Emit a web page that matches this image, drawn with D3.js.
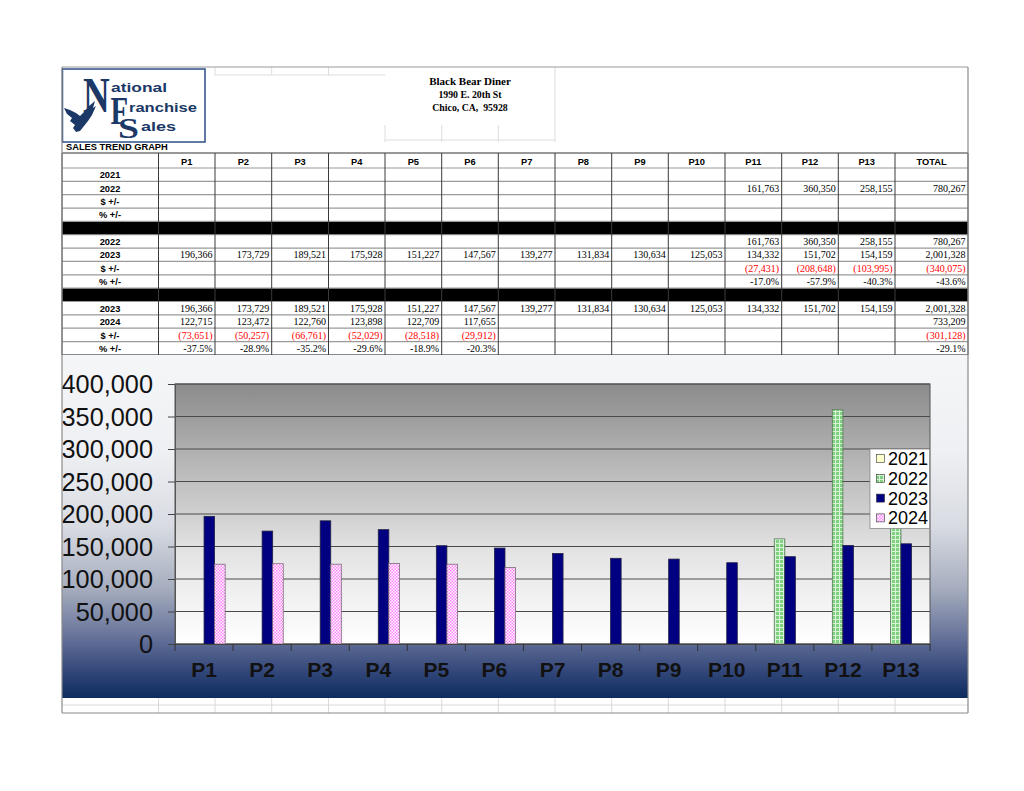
<!DOCTYPE html>
<html><head><meta charset="utf-8">
<script src="https://cdn.jsdelivr.net/npm/d3@7/dist/d3.min.js"></script>
<style>body{margin:0;background:#fff}svg{display:block}</style>
</head><body>
<svg id="c" width="1024" height="791"></svg>
<script>
// ---------- DATA ----------
const periods = ["P1","P2","P3","P4","P5","P6","P7","P8","P9","P10","P11","P12","P13"];
const seriesNames = ["2021","2022","2023","2024"];
const sales2021 = [null,null,null,null,null,null,null,null,null,null,null,null,null];
const sales2022 = [null,null,null,null,null,null,null,null,null,null,161763,360350,258155];
const sales2023 = [196366,173729,189521,175928,151227,147567,139277,131834,130634,125053,134332,151702,154159];
const sales2024 = [122715,123472,122760,123898,122709,117655,null,null,null,null,null,null,null];
const total2022 = 780267, total2023 = 2001328, total2024 = 733209;
const diff23vs22 = [null,null,null,null,null,null,null,null,null,null,-27431,-208648,-103995];
const diffTotal23vs22 = -340075;
const pct23vs22 = [null,null,null,null,null,null,null,null,null,null,-0.170,-0.579,-0.403];
const pctTotal23vs22 = -0.436;
const diff24vs23 = [-73651,-50257,-66761,-52029,-28518,-29912,null,null,null,null,null,null,null];
const diffTotal24vs23 = -301128;
const pct24vs23 = [-0.375,-0.289,-0.352,-0.296,-0.189,-0.203,null,null,null,null,null,null,null];
const pctTotal24vs23 = -0.291;
const yTicks = [0,50000,100000,150000,200000,250000,300000,350000,400000];

// ---------- SETUP ----------
const svg = d3.select("#c");
const defs = svg.append("defs");
const fmtN = d3.format(",");
const numTxt = v => v == null ? "" : (v < 0 ? "(" + fmtN(-v) + ")" : fmtN(v));
const pctTxt = v => v == null ? "" : (v*100).toFixed(1) + "%";

const colX = [62,158.5,215,271.7,328.5,385,441.7,498.3,555,611.7,668.3,725,781.7,838.3,895,968];
const rowH = 13.35, tableTop = 168;

const faint = svg.append("g").attr("stroke","#d4d4d4").attr("stroke-width",0.8);
[[215,67,215,75],[271.7,67,271.7,75],[328.5,67,328.5,75],[215,75,328.5,75],
 [385,125,385,142],[441.7,125,441.7,142],[498.3,125,498.3,142],[385,140,555,140],[555,67,555,142],[328.5,75,385,75]]
 .forEach(l=>faint.append("line").attr("x1",l[0]).attr("y1",l[1]).attr("x2",l[2]).attr("y2",l[3]));
svg.append("line").attr("x1",62).attr("x2",968).attr("y1",67).attr("y2",67).attr("stroke","#9a9a9a");

// ---------- LOGO ----------
const logo = svg.append("g");
logo.append("rect").attr("x",62.5).attr("y",69).attr("width",142.5).attr("height",73)
  .attr("fill","#fff").attr("stroke","#2e4f86").attr("stroke-width",1.5);
const navy = "#1b3866";
function bigLetter(ch, x, yb, size, sx){
  logo.append("text").attr("x",0).attr("y",0).attr("font-family","Liberation Serif").attr("font-weight","bold")
    .attr("font-size",size).attr("fill",navy).attr("transform",`translate(${x},${yb}) scale(${sx},1)`).text(ch);
}
function smallWord(w, x, yb, len){
  logo.append("text").attr("x",x).attr("y",yb).attr("font-family","Liberation Sans").attr("font-weight","bold")
    .attr("font-size",13).attr("fill",navy).attr("textLength",len).attr("lengthAdjust","spacingAndGlyphs").text(w);
}
bigLetter("N", 83, 112, 50, 0.74);
bigLetter("F", 110.5, 124, 40, 0.72);
bigLetter("S", 118, 137.5, 29, 1.3);
smallWord("ational", 111, 92, 56);
smallWord("ranchise", 129, 112, 68);
smallWord("ales", 141, 131, 35);
logo.append("path").attr("fill",navy)
  .attr("d","M64,108 L70,110 L76,113 L80,116 L84,112 L89,106 L95,101 L93,108 L96,106 L92,115 L88,121 L84,126 L80,131 L76,132 L73,128 L75,125 L70,121 L72,118 L67,114 Z");

svg.append("text").attr("x",66).attr("y",149.5).attr("font-family","Liberation Sans").attr("font-weight","bold")
  .attr("font-size",9.3).attr("fill","#000").text("SALES TREND GRAPH");

// title
const tt = svg.append("g").attr("font-family","Liberation Serif").attr("font-weight","bold").attr("text-anchor","middle").attr("fill","#000");
tt.append("text").attr("x",470).attr("y",85).attr("font-size",11).text("Black Bear Diner");
tt.append("text").attr("x",470).attr("y",98).attr("font-size",9.8).text("1990 E. 20th St");
tt.append("text").attr("x",470).attr("y",111).attr("font-size",9.8).text("Chico, CA, \u00a095928");

// ---------- TABLE ----------
const rows = [
  {label:"2021", vals:sales2021, total:null, kind:"n"},
  {label:"2022", vals:sales2022, total:total2022, kind:"n"},
  {label:"$ +/-", vals:periods.map(()=>null), total:null, kind:"n"},
  {label:"% +/-", vals:periods.map(()=>null), total:null, kind:"p"},
  {black:true},
  {label:"2022", vals:sales2022, total:total2022, kind:"n"},
  {label:"2023", vals:sales2023, total:total2023, kind:"n"},
  {label:"$ +/-", vals:diff23vs22, total:diffTotal23vs22, kind:"n"},
  {label:"% +/-", vals:pct23vs22, total:pctTotal23vs22, kind:"p"},
  {black:true},
  {label:"2023", vals:sales2023, total:total2023, kind:"n"},
  {label:"2024", vals:sales2024, total:total2024, kind:"n"},
  {label:"$ +/-", vals:diff24vs23, total:diffTotal24vs23, kind:"n"},
  {label:"% +/-", vals:pct24vs23, total:pctTotal24vs23, kind:"p"}
];
const tbl = svg.append("g");
tbl.append("line").attr("x1",62).attr("x2",968).attr("y1",153).attr("y2",153).attr("stroke","#333").attr("stroke-width",1);
const headers = periods.concat(["TOTAL"]);
headers.forEach((h,i)=>{
  tbl.append("text").attr("x",(colX[i+1]+colX[i+2])/2).attr("y",164.5).attr("text-anchor","middle")
    .attr("font-family","Liberation Sans").attr("font-weight","bold").attr("font-size",9.3).text(h);
});
rows.forEach((r,ri)=>{
  const y0 = tableTop + ri*rowH;
  if (r.black) {
    tbl.append("rect").attr("x",62).attr("y",y0).attr("width",906).attr("height",rowH).attr("fill","#000");
    return;
  }
  tbl.append("text").attr("x",110).attr("y",y0+10.3).attr("text-anchor","middle")
    .attr("font-family","Liberation Sans").attr("font-weight","bold").attr("font-size",9.3).text(r.label);
  const all = r.vals.concat([r.total]);
  all.forEach((v,ci)=>{
    if (v == null) return;
    const neg = r.kind==="n" && v < 0;
    tbl.append("text").attr("x",colX[ci+2]-2.5).attr("y",y0+10.3).attr("text-anchor","end")
      .attr("font-family","Liberation Serif").attr("font-size",10).attr("fill",neg?"#ff0000":"#000")
      .text(r.kind==="p"?pctTxt(v):numTxt(v));
  });
});
for (let i=0;i<=rows.length;i++){
  const y = tableTop + i*rowH;
  tbl.append("line").attr("x1",62).attr("x2",968).attr("y1",y).attr("y2",y)
    .attr("stroke", i===rows.length ? "#8a8a8a" : "#9a9a9a").attr("stroke-width", i===rows.length?2:1.2);
}
colX.forEach((x,i)=>{
  tbl.append("line").attr("x1",x).attr("x2",x).attr("y1",153).attr("y2",tableTop+rows.length*rowH)
    .attr("stroke","#3a3a3a").attr("stroke-width",1);
});

// ---------- CHART ----------
const cg = defs.append("linearGradient").attr("id","chartBg").attr("x1",0).attr("y1",0).attr("x2",0).attr("y2",1);
[[0,"#f5f6f8"],[0.28,"#eef0f3"],[0.5,"#d8dbe2"],[0.68,"#a6adbe"],[0.82,"#67739a"],[0.92,"#34487a"],[1,"#0c2b5f"]]
  .forEach(s=>cg.append("stop").attr("offset",s[0]).attr("stop-color",s[1]));
const pg = defs.append("linearGradient").attr("id","plotBg").attr("x1",0).attr("y1",0).attr("x2",0).attr("y2",1);
[[0,"#8b8b8b"],[0.35,"#bdbdbd"],[0.65,"#e4e4e4"],[1,"#ffffff"]]
  .forEach(s=>pg.append("stop").attr("offset",s[0]).attr("stop-color",s[1]));

const pGreen = defs.append("pattern").attr("id","pGreen").attr("width",4).attr("height",4).attr("patternUnits","userSpaceOnUse");
pGreen.append("rect").attr("width",4).attr("height",4).attr("fill","#7fd07f");
pGreen.append("rect").attr("x",3).attr("width",1).attr("height",4).attr("fill","#d8f3d8");
pGreen.append("rect").attr("y",3).attr("width",4).attr("height",1).attr("fill","#d8f3d8");
const pPink = defs.append("pattern").attr("id","pPink").attr("width",3).attr("height",3).attr("patternUnits","userSpaceOnUse");
pPink.append("rect").attr("width",3).attr("height",3).attr("fill","#ffffff");
pPink.append("rect").attr("width",1.5).attr("height",1.5).attr("fill","#ff80ff");
pPink.append("rect").attr("x",1.5).attr("y",1.5).attr("width",1.5).attr("height",1.5).attr("fill","#ff80ff");

const fills = {"2021":"#ffffcc","2022":"url(#pGreen)","2023":"#000080","2024":"url(#pPink)"};
const strokes = {"2021":"#555","2022":"#5a7a5a","2023":"#222244","2024":"#7a6a7a"};
const seriesData = {"2021":sales2021,"2022":sales2022,"2023":sales2023,"2024":sales2024};

svg.append("rect").attr("x",62).attr("y",355).attr("width",906).attr("height",343).attr("fill","url(#chartBg)");

const plot = {l:175,t:384,r:930,b:644};
const x0 = d3.scaleBand().domain(periods).range([plot.l,plot.r]).padding(0);
const x1 = d3.scaleBand().domain(seriesNames).range([0,x0.bandwidth()]).paddingInner(0).paddingOuter(0.75);
const y = d3.scaleLinear().domain([0,400000]).range([plot.b,plot.t]);

svg.append("rect").attr("x",plot.l).attr("y",plot.t).attr("width",plot.r-plot.l).attr("height",plot.b-plot.t)
  .attr("fill","url(#plotBg)");
svg.append("g").selectAll("line").data(yTicks).join("line")
  .attr("x1",plot.l).attr("x2",plot.r).attr("y1",d=>y(d)).attr("y2",d=>y(d))
  .attr("stroke","#4a4a4a").attr("stroke-width",1);
svg.append("rect").attr("x",plot.l).attr("y",plot.t).attr("width",plot.r-plot.l).attr("height",plot.b-plot.t)
  .attr("fill","none").attr("stroke","#555").attr("stroke-width",1);

const bars = svg.append("g");
seriesNames.forEach(s=>{
  bars.append("g").selectAll("rect").data(periods.map((p,i)=>({p,v:seriesData[s][i]})).filter(d=>d.v!=null))
    .join("rect")
    .attr("x",d=>x0(d.p)+x1(s)).attr("width",x1.bandwidth())
    .attr("y",d=>y(d.v)).attr("height",d=>y(0)-y(d.v))
    .attr("fill",fills[s]).attr("stroke",strokes[s]).attr("stroke-width",0.8);
});

const yAxis = d3.axisLeft(y).tickValues(yTicks).tickFormat(d3.format(",")).tickSize(7).tickPadding(15);
const ya = svg.append("g").attr("transform",`translate(${plot.l},0)`).call(yAxis);
ya.select(".domain").attr("stroke","#555");
ya.selectAll(".tick line").attr("stroke","#444");
ya.selectAll("text").attr("font-family","Liberation Sans").attr("font-size",25.3).attr("fill","#111").attr("dy","0.35em");

const xa = svg.append("g").attr("transform",`translate(0,${plot.b})`).call(d3.axisBottom(x0).tickSize(0).tickPadding(14));
xa.select(".domain").attr("stroke","#444");
xa.selectAll("text").attr("font-family","Liberation Sans").attr("font-weight","bold").attr("font-size",21).attr("fill","#111")
  .attr("dy","0.9em");
const bounds = periods.map(p=>x0(p)).concat([plot.r]);
svg.append("g").selectAll("line").data(bounds).join("line")
  .attr("x1",d=>d).attr("x2",d=>d).attr("y1",plot.b).attr("y2",plot.b+7).attr("stroke","#333");

const lg = svg.append("g");
lg.append("rect").attr("x",870).attr("y",449).attr("width",59.5).attr("height",79.5).attr("fill","#fff").attr("stroke","#888").attr("stroke-width",0.8);
seriesNames.forEach((s,i)=>{
  const cy = 458.5 + i*19.8;
  lg.append("rect").attr("x",876.5).attr("y",cy-4).attr("width",8).attr("height",8).attr("fill",fills[s]).attr("stroke","#333").attr("stroke-width",0.6);
  lg.append("text").attr("x",888).attr("y",cy+6.5).attr("font-family","Liberation Sans").attr("font-size",18).attr("fill","#000").text(s);
});

const bg = svg.append("g").attr("stroke","#d0d0d0").attr("stroke-width",0.8);
bg.append("line").attr("x1",62).attr("x2",968).attr("y1",705).attr("y2",705);
colX.slice(1,-1).forEach(x=>bg.append("line").attr("x1",x).attr("x2",x).attr("y1",698).attr("y2",713));
svg.append("line").attr("x1",62).attr("x2",968).attr("y1",713).attr("y2",713).attr("stroke","#8a8a8a").attr("stroke-width",1.2);
svg.append("line").attr("x1",62).attr("x2",62).attr("y1",67).attr("y2",713).attr("stroke","#8a8a8a").attr("stroke-width",1.2);
svg.append("line").attr("x1",968).attr("x2",968).attr("y1",67).attr("y2",713).attr("stroke","#8a8a8a").attr("stroke-width",1.2);
</script>
</body></html>
